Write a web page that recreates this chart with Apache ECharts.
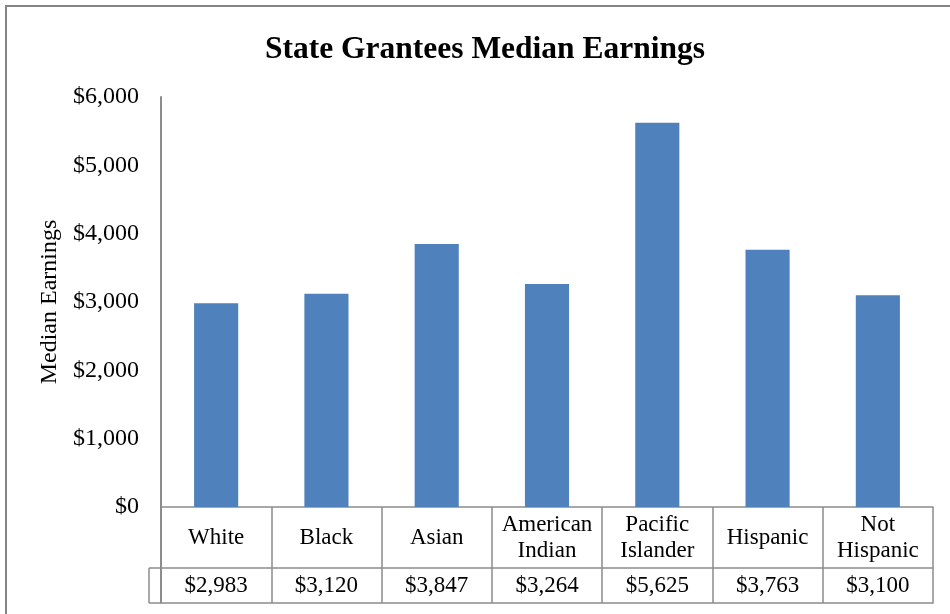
<!DOCTYPE html>
<html>
<head>
<meta charset="utf-8">
<script src="https://cdn.jsdelivr.net/npm/echarts@6/dist/echarts.min.js"></script>
<style>html,body{margin:0;padding:0;background:#fff}#c{width:950px;height:614px}</style>
</head>
<body>
<div id="c"></div>
<script>
var title = 'State Grantees Median Earnings';
var categories = ['White', 'Black', 'Asian', 'American\nIndian', 'Pacific\nIslander', 'Hispanic', 'Not\nHispanic'];
var values = [2983, 3120, 3847, 3264, 5625, 3763, 3100];
var valueLabels = ['$2,983', '$3,120', '$3,847', '$3,264', '$5,625', '$3,763', '$3,100'];
var yTicks = [0, 1000, 2000, 3000, 4000, 5000, 6000];
var yName = 'Median Earnings';

var font = '"Liberation Serif", "Times New Roman", serif';
var lineCol = '#8c8c8c';
var chart = echarts.init(document.getElementById('c'), null, {renderer: 'canvas'});
function money(v){ return '$' + v.toLocaleString('en-US'); }

var option = {
  animation: false,
  backgroundColor: '#fff',
  title: {
    text: title, left: 480, top: 29, textAlign: 'center',
    textStyle: {fontFamily: font, fontSize: 31.5, fontWeight: 'bold', color: '#000'}
  },
  grid: {left: 161, right: 17, top: 97, bottom: 107, containLabel: false},
  xAxis: [
    {
      type: 'category', data: categories, position: 'bottom',
      axisLine: {show: true, lineStyle: {color: lineCol, width: 1.5}},
      axisTick: {show: true, length: 96, lineStyle: {color: lineCol, width: 1.5}},
      axisLabel: {fontFamily: font, fontSize: 23, color: '#000', margin: 31, verticalAlign: 'middle', lineHeight: 26, interval: 0}
    },
    {
      type: 'category', data: valueLabels, position: 'bottom', offset: 61,
      axisLine: {show: true, lineStyle: {color: lineCol, width: 1.5}},
      axisTick: {show: false},
      axisLabel: {fontFamily: font, fontSize: 23, color: '#000', margin: 18, verticalAlign: 'middle', interval: 0}
    },
    {
      type: 'category', data: categories, position: 'bottom', offset: 96,
      axisLine: {show: true, lineStyle: {color: lineCol, width: 1.5}},
      axisTick: {show: false},
      axisLabel: {show: false}
    }
  ],
  yAxis: {
    type: 'value', min: yTicks[0], max: yTicks[yTicks.length - 1], interval: 1000,
    name: yName, nameLocation: 'middle', nameGap: 95, nameRotate: 90,
    nameTextStyle: {fontFamily: font, fontSize: 24, color: '#000'},
    axisLine: {show: true, lineStyle: {color: lineCol, width: 2}},
    axisTick: {show: false},
    splitLine: {show: false},
    axisLabel: {fontFamily: font, fontSize: 24, color: '#000', margin: 22, formatter: money}
  },
  series: [{
    type: 'bar', data: values, xAxisIndex: 0, barWidth: '40%',
    itemStyle: {color: '#4F81BD'}
  }]
};
chart.setOption(option);

// Table left stub cell and outer border, positioned from the chart's own grid
var gridRect = chart.getModel().getComponent('grid').coordinateSystem.getRect();
var xl = gridRect.x, xb = gridRect.y + gridRect.height;
var stub = 12;
chart.setOption({
  graphic: [
    {type: 'line', shape: {x1: xl - stub, y1: xb + 61, x2: xl, y2: xb + 61}, style: {stroke: lineCol, lineWidth: 1.5}},
    {type: 'line', shape: {x1: xl - stub, y1: xb + 96, x2: xl, y2: xb + 96}, style: {stroke: lineCol, lineWidth: 1.5}},
    {type: 'line', shape: {x1: xl - stub, y1: xb + 61, x2: xl - stub, y2: xb + 96}, style: {stroke: lineCol, lineWidth: 1.5}},
    {type: 'line', shape: {x1: xl, y1: xb, x2: xl, y2: xb + 96}, style: {stroke: lineCol, lineWidth: 2}},
    {type: 'rect', shape: {x: 6, y: 6, width: 960, height: 640}, style: {fill: 'none', stroke: '#858585', lineWidth: 2}, silent: true}
  ]
});
</script>
</body>
</html>
